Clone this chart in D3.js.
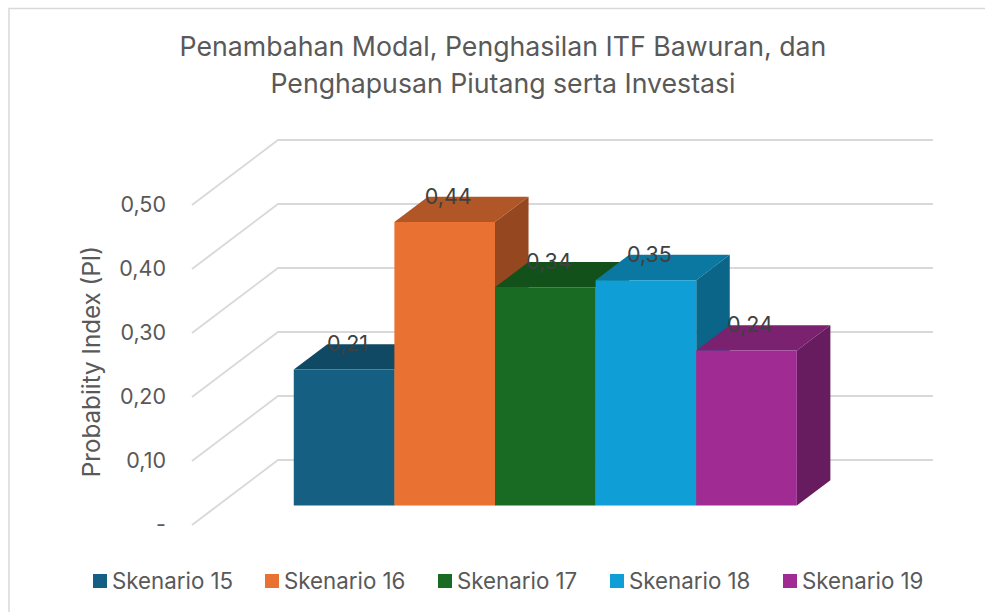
<!DOCTYPE html>
<html>
<head>
<meta charset="utf-8">
<style>
  html, body { margin: 0; padding: 0; background: #fff; overflow: hidden; }
  text { font-family: Inter, "Open Sans", sans-serif; }
</style>
<script src="https://cdn.jsdelivr.net/npm/d3@7"></script>
</head>
<body>
<svg id="chart" width="985" height="612"></svg>
<script>
const titleLines = ["Penambahan Modal, Penghasilan ITF Bawuran, dan", "Penghapusan Piutang serta Investasi"];
const yTitle = "Probabiity Index (PI)";
const categories = ["Skenario 15", "Skenario 16", "Skenario 17", "Skenario 18", "Skenario 19"];
const values = [0.2125, 0.443, 0.341, 0.352, 0.242];
const colors = ["#156082", "#E97132", "#196B24", "#0F9ED5", "#A02B93"];
const yTicks = [0, 0.1, 0.2, 0.3, 0.4, 0.5];
const legendX = [93, 265, 438, 610, 783];

const svg = d3.select("#chart");

// front plane of the 3d box, depth is z 0..1
const x = d3.scaleBand().domain(categories).range([192, 847]).paddingInner(0).paddingOuter(0.755);
const y = d3.scaleLinear().domain([0, 0.5]).range([525, 205]);
const depthX = d3.scaleLinear().domain([0, 1]).range([0, 86]);
const depthY = d3.scaleLinear().domain([0, 1]).range([0, -65]);
const barZ0 = 0.30, barZ1 = 0.69;

const project = (px, v, z) => [px + depthX(z), y(v) + depthY(z)];
const shade = (c, k) => { const r = d3.rgb(c); return d3.rgb(r.r * k, r.g * k, r.b * k).formatHex(); };
const line = d3.line();

const fmt = v => v === 0 ? "-" : d3.format(".2f")(v).replace(".", ",");

svg.append("rect")
  .attr("x", 9).attr("y", 8.5).attr("width", 1000).attr("height", 700)
  .attr("fill", "#fff").attr("stroke", "#d9d9d9").attr("stroke-width", 1.5);

const title = svg.append("g").attr("fill", "#595959").attr("font-size", 26.7).attr("text-anchor", "middle");
titleLines.forEach((t, i) => {
  title.append("text").attr("x", 503).attr("y", 56 + i * 37).text(t);
});

// gridlines: side wall then back wall
svg.append("g").selectAll("path")
  .data(yTicks)
  .join("path")
  .attr("d", v => line([project(192, v, 0), project(192, v, 1), project(847, v, 1)]))
  .attr("fill", "none")
  .attr("stroke", "#d9d9d9")
  .attr("stroke-width", 1.9);

const axis = d3.axisLeft(y).tickValues(yTicks).tickSize(0).tickFormat(fmt);
const axisG = svg.append("g").attr("transform", "translate(166,0)").call(axis);
axisG.select(".domain").remove();
axisG.selectAll("text").attr("fill", "#595959").attr("font-size", 21.5).attr("x", 0).attr("dy", "0.3em")
  .style("font-family", "Inter, sans-serif");

svg.append("text")
  .attr("transform", "translate(100,361.5) rotate(-90)")
  .attr("text-anchor", "middle")
  .attr("fill", "#595959")
  .attr("font-size", 24.2)
  .text(yTitle);

// bars, left to right so the next one covers the previous side
const bars = svg.append("g").selectAll("g")
  .data(categories.map((c, i) => ({ c, v: values[i], color: colors[i] })))
  .join("g");

const corners = d => {
  const x0 = x(d.c), x1 = x0 + x.bandwidth();
  return { x0, x1 };
};

bars.append("path")
  .attr("d", d => {
    const { x0, x1 } = corners(d);
    return line([project(x0, d.v, barZ0), project(x0, d.v, barZ1), project(x1, d.v, barZ1), project(x1, d.v, barZ0)]) + "Z";
  })
  .attr("fill", d => shade(d.color, 0.76));

bars.append("path")
  .attr("d", d => {
    const { x1 } = corners(d);
    return line([project(x1, 0, barZ0), project(x1, 0, barZ1), project(x1, d.v, barZ1), project(x1, d.v, barZ0)]) + "Z";
  })
  .attr("fill", d => shade(d.color, 0.64));

bars.append("path")
  .attr("d", d => {
    const { x0, x1 } = corners(d);
    return line([project(x0, 0, barZ0), project(x1, 0, barZ0), project(x1, d.v, barZ0), project(x0, d.v, barZ0)]) + "Z";
  })
  .attr("fill", d => d.color);

// data labels sit at the middle of the top face
svg.append("g").selectAll("text")
  .data(categories.map((c, i) => ({ c, v: values[i] })))
  .join("text")
  .attr("x", d => x(d.c) + x.bandwidth() / 2 + depthX(barZ0) + 3.5)
  .attr("y", d => y(d.v) + depthY(barZ0) - 26)
  .attr("dy", "0.36em")
  .attr("text-anchor", "middle")
  .attr("fill", "#404040")
  .attr("font-size", 21.5)
  .text(d => fmt(d.v));

// legend
const legend = svg.append("g").selectAll("g")
  .data(categories)
  .join("g")
  .attr("transform", (d, i) => `translate(${legendX[i]},574)`);

legend.append("rect")
  .attr("width", 14).attr("height", 14)
  .attr("fill", (d, i) => colors[i]);

legend.append("text")
  .attr("x", 19).attr("y", 14.5)
  .attr("fill", "#595959")
  .attr("font-size", 22.3)
  .text(d => d);
</script>
</body>
</html>
